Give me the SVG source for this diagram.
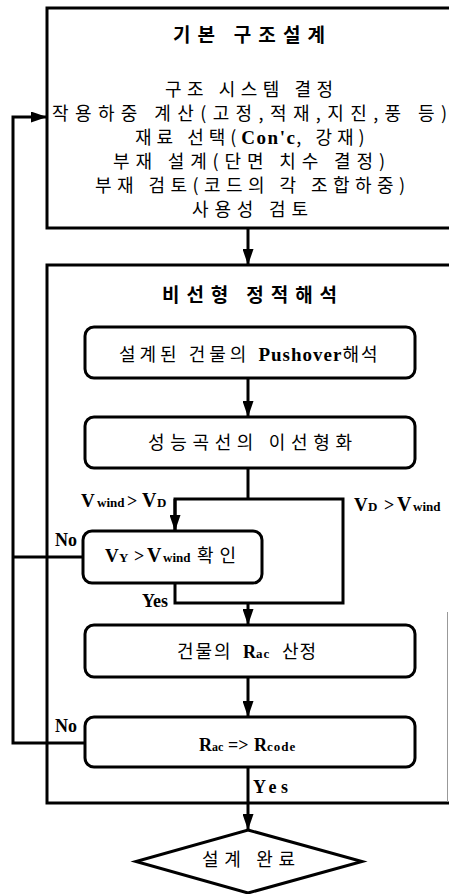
<svg xmlns="http://www.w3.org/2000/svg" width="449" height="894" viewBox="0 0 449 894">
<style>
.bg{fill:#fff}
.frame{fill:none;stroke:#000;stroke-width:3}
.box{fill:#fff;stroke:#000;stroke-width:3}
.ln{fill:none;stroke:#000;stroke-width:3}
.ko{font-family:"Noto Sans CJK KR","Noto Sans",sans-serif;fill:#000}
.tt{font-family:"Noto Sans CJK KR","Noto Sans",sans-serif;font-weight:bold;font-size:19px;fill:#000}
.lt{font-family:"Liberation Serif","Times New Roman",serif;font-weight:bold;fill:#000}
</style>
<defs>
<marker id="ah" viewBox="0 0 16 11" markerWidth="16" markerHeight="11" refX="16" refY="5.5" orient="auto" markerUnits="userSpaceOnUse">
<path d="M0,0 L16,5.5 L0,11 z" fill="#000"/>
</marker>
</defs>
<rect class="bg" x="0" y="0" width="449" height="894"/>

<g id="design-box">
<rect class="frame" x="47" y="8" width="410" height="220"/>
<text class="tt" x="249" y="42" text-anchor="middle" textLength="152" lengthAdjust="spacing">기본 구조설계</text>
<g class="ko" font-size="18">
<text x="249" y="96" text-anchor="middle" textLength="168" lengthAdjust="spacing">구조 시스템 결정</text>
<text x="249.5" y="120" text-anchor="middle" textLength="395" lengthAdjust="spacing">작용하중 계산(고정,적재,지진,풍 등)</text>
<text x="135" y="144"><tspan letter-spacing="5">재료 선택(</tspan><tspan class="lt" font-size="19" letter-spacing="1.5">Con'c</tspan><tspan letter-spacing="5">, 강재)</tspan></text>
<text x="249" y="168" text-anchor="middle" textLength="272" lengthAdjust="spacing">부재 설계(단면 치수 결정)</text>
<text x="250" y="192" text-anchor="middle" textLength="310" lengthAdjust="spacing">부재 검토(코드의 각 조합하중)</text>
<text x="250" y="216" text-anchor="middle" textLength="116" lengthAdjust="spacing">사용성 검토</text>
</g>
</g>

<g id="analysis-frame">
<rect class="frame" x="47" y="265" width="410" height="538"/>
<line x1="447.5" y1="612" x2="447.5" y2="802" stroke="#999" stroke-width="1"/>
<text class="tt" x="249.5" y="302" text-anchor="middle" textLength="175" lengthAdjust="spacing">비선형 정적해석</text>
</g>

<g id="pushover">
<rect class="box" x="85" y="327" width="330" height="51" rx="9"/>
<text class="ko" font-size="18" x="119" y="361"><tspan letter-spacing="4">설계된 건물의 </tspan><tspan class="lt" font-size="19" letter-spacing="1">Pushover</tspan><tspan letter-spacing="2">해석</tspan></text>
</g>

<g id="bilinear">
<rect class="box" x="85" y="417" width="330" height="51" rx="9"/>
<text class="ko" font-size="18" x="250" y="449" text-anchor="middle" textLength="204" lengthAdjust="spacing">성능곡선의 이선형화</text>
</g>

<g id="check-vy">
<rect class="box" x="83" y="531" width="179" height="52" rx="9"/>
<text class="lt" y="562"><tspan x="105" font-size="19">V</tspan><tspan x="119" font-size="13">Y</tspan><tspan x="134" font-size="18">&gt;</tspan><tspan x="147" font-size="20">V</tspan><tspan x="163" font-size="13">wind</tspan></text>
<text class="ko" font-size="18" x="197" y="562" letter-spacing="6">확인</text>
</g>

<g id="rac">
<rect class="box" x="85" y="625" width="330" height="52" rx="9"/>
<text class="ko" font-size="18" x="177" y="658" letter-spacing="2">건물의</text>
<text class="lt" y="658"><tspan x="243" font-size="18">R</tspan><tspan x="256" font-size="13" letter-spacing="1">ac</tspan></text>
<text class="ko" font-size="18" x="282" y="658" letter-spacing="1">산정</text>
</g>

<g id="compare">
<rect class="box" x="85" y="717" width="330" height="50" rx="9"/>
<text class="lt" y="751"><tspan x="199" font-size="18">R</tspan><tspan x="212" font-size="12">ac</tspan><tspan x="228" font-size="18">=&gt;</tspan><tspan x="254" font-size="18">R</tspan><tspan x="267" font-size="13" letter-spacing="1">code</tspan></text>
</g>

<g id="done">
<polygon class="box" points="248,830 362,861.5 248,893 136,861.5"/>
<text class="ko" font-size="18" x="248.5" y="866" text-anchor="middle" textLength="93" lengthAdjust="spacing">설계 완료</text>
</g>

<g id="connectors">
<line class="ln" x1="248" y1="228" x2="248" y2="265" marker-end="url(#ah)"/>
<line class="ln" x1="248" y1="378" x2="248" y2="417" marker-end="url(#ah)"/>
<polyline class="ln" points="248,468 248,499"/>
<polyline class="ln" points="175,531 175,499 343,499 343,603 175,603 175,583"/>
<line class="ln" x1="175" y1="499" x2="175" y2="531" marker-end="url(#ah)"/>
<line class="ln" x1="248" y1="603" x2="248" y2="625" marker-end="url(#ah)"/>
<line class="ln" x1="83" y1="557" x2="13" y2="557"/>
<line class="ln" x1="248" y1="677" x2="248" y2="717" marker-end="url(#ah)"/>
<polyline class="ln" points="85,743 13,743 13,117 47,117" marker-end="url(#ah)"/>
<line class="ln" x1="248" y1="767" x2="248" y2="830" marker-end="url(#ah)"/>
</g>

<g id="labels">
<text class="lt" y="507"><tspan x="81" font-size="19">V</tspan><tspan x="97" font-size="13">wind</tspan><tspan x="127" font-size="18">&gt;</tspan><tspan x="142" font-size="20">V</tspan><tspan x="157" font-size="13">D</tspan></text>
<text class="lt" y="511"><tspan x="354" font-size="19">V</tspan><tspan x="368" font-size="13">D</tspan><tspan x="384" font-size="18">&gt;</tspan><tspan x="397" font-size="20">V</tspan><tspan x="413" font-size="13">wind</tspan></text>
<text class="lt" font-size="18" x="55" y="546">No</text>
<text class="lt" font-size="18" x="168" y="607" text-anchor="end">Yes</text>
<text class="lt" font-size="18" x="55" y="732">No</text>
<text class="lt" font-size="18" x="253" y="793" textLength="35" lengthAdjust="spacing">Yes</text>
</g>
</svg>
